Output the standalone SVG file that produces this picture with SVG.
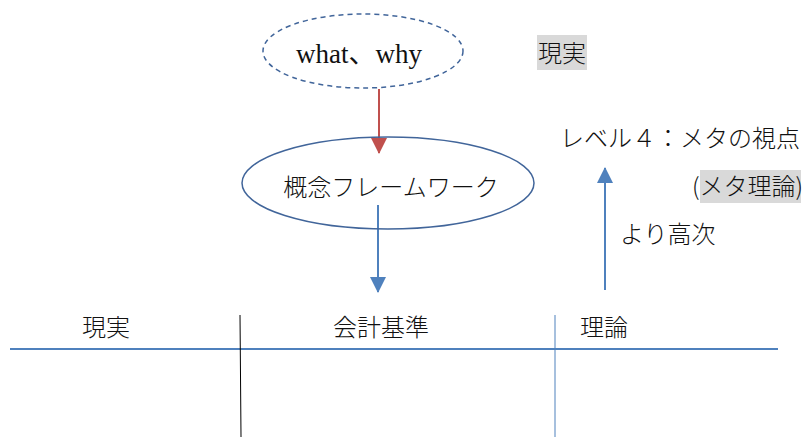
<svg xmlns="http://www.w3.org/2000/svg" width="809" height="437" viewBox="0 0 809 437">
<defs>
<style>
.t{font-family:"Liberation Serif","Noto Sans CJK JP",serif;font-size:27px;fill:#111}
.j{font-family:"Noto Sans CJK JP",sans-serif;font-size:24px;fill:#111;font-weight:300}
</style>
<marker id="ab2" markerWidth="16" markerHeight="16" refX="15" refY="8" orient="auto" markerUnits="userSpaceOnUse"><path d="M0,0 L16,8 L0,16 z" fill="#4f81bd"/></marker>
<marker id="ar2" markerWidth="16" markerHeight="16" refX="15" refY="8" orient="auto" markerUnits="userSpaceOnUse"><path d="M0,0 L16,8 L0,16 z" fill="#c0504d"/></marker>
</defs>
<rect width="809" height="437" fill="#fff"/>
<g id="connectors">
<line x1="379" y1="89" x2="379" y2="153" stroke="#c0504d" stroke-width="2" marker-end="url(#ar2)"/>
<line x1="378" y1="205" x2="378" y2="292" stroke="#4f81bd" stroke-width="2" marker-end="url(#ab2)"/>
<line x1="605" y1="290" x2="605" y2="168" stroke="#4f81bd" stroke-width="2" marker-end="url(#ab2)"/>
</g>
<g id="what">
<ellipse cx="363" cy="51" rx="100" ry="37" fill="none" stroke="#41659a" stroke-width="1.5" stroke-dasharray="5,4"/>
<text class="t" x="359" y="63" text-anchor="middle">what、why</text>
</g>
<g id="genjitsu-top">
<rect x="537" y="35" width="50" height="35" fill="#d9d9d9"/>
<text class="j" x="562" y="62" text-anchor="middle">現実</text>
</g>
<g id="framework">
<ellipse cx="388" cy="183" rx="146" ry="46" fill="none" stroke="#41659a" stroke-width="1.5"/>
<text class="j" x="391" y="196" text-anchor="middle">概念フレームワーク</text>
</g>
<g id="level4">
<text class="j" x="560" y="147">レベル４：メタの視点</text>
</g>
<g id="meta">
<rect x="700" y="170" width="101" height="33" fill="#d9d9d9"/>
<text class="j" x="692" y="195">(メタ理論)</text>
</g>
<g id="higher">
<text class="j" x="620" y="243">より高次</text>
</g>
<g id="table">
<line x1="10" y1="349" x2="778" y2="349" stroke="#4f81bd" stroke-width="2"/>
<line x1="240" y1="315" x2="241" y2="437" stroke="#000" stroke-width="1"/>
<line x1="555" y1="315" x2="555" y2="437" stroke="#4f81bd" stroke-width="1"/>
<text class="j" x="106" y="336" text-anchor="middle">現実</text>
<text class="j" x="381" y="336" text-anchor="middle">会計基準</text>
<text class="j" x="580" y="336">理論</text>
</g>
</svg>
